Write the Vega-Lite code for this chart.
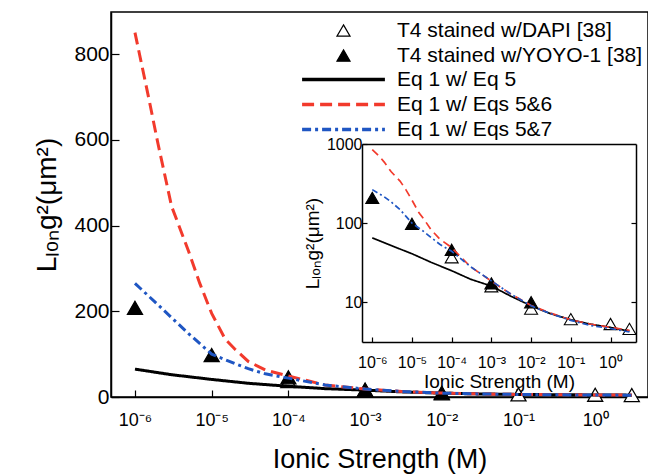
{
  "$schema": "https://vega.github.io/schema/vega-lite/v6.json",
  "width": 537,
  "height": 385,
  "autosize": "none",
  "padding": {"left": 111, "top": 12, "right": 0, "bottom": 77},
  "config": {
    "view": {"stroke": "black", "strokeWidth": 1.5},
    "font": "Liberation Sans",
    "axis": {"grid": false, "domainColor": "black", "domainWidth": 1.5, "tickColor": "black", "tickWidth": 1.2, "labelColor": "black", "titleColor": "black", "titleFontWeight": "normal", "labelFont": "Liberation Sans", "titleFont": "Liberation Sans"},
    "legend": {"labelFont": "Liberation Sans"}
  },
  "datasets": {
    "curves": [
      {"I": 1e-6, "L": 65, "series": "Eq 1 w/ Eq 5"},
      {"I": 3e-6, "L": 52, "series": "Eq 1 w/ Eq 5"},
      {"I": 1e-5, "L": 41, "series": "Eq 1 w/ Eq 5"},
      {"I": 3e-5, "L": 32, "series": "Eq 1 w/ Eq 5"},
      {"I": 1e-4, "L": 25, "series": "Eq 1 w/ Eq 5"},
      {"I": 3e-4, "L": 19.5, "series": "Eq 1 w/ Eq 5"},
      {"I": 1e-3, "L": 16, "series": "Eq 1 w/ Eq 5"},
      {"I": 3e-3, "L": 12, "series": "Eq 1 w/ Eq 5"},
      {"I": 1e-2, "L": 9.0, "series": "Eq 1 w/ Eq 5"},
      {"I": 3e-2, "L": 7.2, "series": "Eq 1 w/ Eq 5"},
      {"I": 0.1, "L": 6.0, "series": "Eq 1 w/ Eq 5"},
      {"I": 0.3, "L": 5.3, "series": "Eq 1 w/ Eq 5"},
      {"I": 1, "L": 4.8, "series": "Eq 1 w/ Eq 5"},
      {"I": 3, "L": 4.3, "series": "Eq 1 w/ Eq 5"},
      {"I": 1e-6, "L": 850, "series": "Eq 1 w/ Eqs 5&6"},
      {"I": 1.5e-6, "L": 700, "series": "Eq 1 w/ Eqs 5&6"},
      {"I": 2e-6, "L": 590, "series": "Eq 1 w/ Eqs 5&6"},
      {"I": 3e-6, "L": 445, "series": "Eq 1 w/ Eqs 5&6"},
      {"I": 5e-6, "L": 340, "series": "Eq 1 w/ Eqs 5&6"},
      {"I": 7e-6, "L": 265, "series": "Eq 1 w/ Eqs 5&6"},
      {"I": 1e-5, "L": 195, "series": "Eq 1 w/ Eqs 5&6"},
      {"I": 1.5e-5, "L": 135, "series": "Eq 1 w/ Eqs 5&6"},
      {"I": 2e-5, "L": 112, "series": "Eq 1 w/ Eqs 5&6"},
      {"I": 3e-5, "L": 83, "series": "Eq 1 w/ Eqs 5&6"},
      {"I": 5e-5, "L": 63, "series": "Eq 1 w/ Eqs 5&6"},
      {"I": 1e-4, "L": 49, "series": "Eq 1 w/ Eqs 5&6"},
      {"I": 3e-4, "L": 28, "series": "Eq 1 w/ Eqs 5&6"},
      {"I": 1e-3, "L": 18.5, "series": "Eq 1 w/ Eqs 5&6"},
      {"I": 3e-3, "L": 12.8, "series": "Eq 1 w/ Eqs 5&6"},
      {"I": 1e-2, "L": 9.1, "series": "Eq 1 w/ Eqs 5&6"},
      {"I": 3e-2, "L": 7.3, "series": "Eq 1 w/ Eqs 5&6"},
      {"I": 0.1, "L": 6.0, "series": "Eq 1 w/ Eqs 5&6"},
      {"I": 0.3, "L": 5.3, "series": "Eq 1 w/ Eqs 5&6"},
      {"I": 1, "L": 4.8, "series": "Eq 1 w/ Eqs 5&6"},
      {"I": 3, "L": 4.4, "series": "Eq 1 w/ Eqs 5&6"},
      {"I": 1e-6, "L": 265, "series": "Eq 1 w/ Eqs 5&7"},
      {"I": 2e-6, "L": 215, "series": "Eq 1 w/ Eqs 5&7"},
      {"I": 3e-6, "L": 185, "series": "Eq 1 w/ Eqs 5&7"},
      {"I": 5e-6, "L": 148, "series": "Eq 1 w/ Eqs 5&7"},
      {"I": 1e-5, "L": 100, "series": "Eq 1 w/ Eqs 5&7"},
      {"I": 2e-5, "L": 78, "series": "Eq 1 w/ Eqs 5&7"},
      {"I": 3e-5, "L": 66, "series": "Eq 1 w/ Eqs 5&7"},
      {"I": 5e-5, "L": 54, "series": "Eq 1 w/ Eqs 5&7"},
      {"I": 1e-4, "L": 44, "series": "Eq 1 w/ Eqs 5&7"},
      {"I": 3e-4, "L": 28, "series": "Eq 1 w/ Eqs 5&7"},
      {"I": 1e-3, "L": 18.6, "series": "Eq 1 w/ Eqs 5&7"},
      {"I": 3e-3, "L": 12.8, "series": "Eq 1 w/ Eqs 5&7"},
      {"I": 1e-2, "L": 9.0, "series": "Eq 1 w/ Eqs 5&7"},
      {"I": 3e-2, "L": 7.2, "series": "Eq 1 w/ Eqs 5&7"},
      {"I": 0.1, "L": 5.9, "series": "Eq 1 w/ Eqs 5&7"},
      {"I": 0.3, "L": 5.1, "series": "Eq 1 w/ Eqs 5&7"},
      {"I": 1, "L": 4.65, "series": "Eq 1 w/ Eqs 5&7"},
      {"I": 3, "L": 4.2, "series": "Eq 1 w/ Eqs 5&7"}
    ],
    "pts": [
      {"I": 1e-4, "L": 37, "series": "T4 stained w/DAPI [38]"},
      {"I": 1e-3, "L": 15.9, "series": "T4 stained w/DAPI [38]"},
      {"I": 1e-2, "L": 8.3, "series": "T4 stained w/DAPI [38]"},
      {"I": 0.1, "L": 6.1, "series": "T4 stained w/DAPI [38]"},
      {"I": 1, "L": 5.3, "series": "T4 stained w/DAPI [38]"},
      {"I": 3, "L": 4.6, "series": "T4 stained w/DAPI [38]"},
      {"I": 1e-6, "L": 208, "series": "T4 stained w/YOYO-1 [38]"},
      {"I": 1e-5, "L": 98, "series": "T4 stained w/YOYO-1 [38]"},
      {"I": 1e-4, "L": 46, "series": "T4 stained w/YOYO-1 [38]"},
      {"I": 1e-3, "L": 17.3, "series": "T4 stained w/YOYO-1 [38]"},
      {"I": 1e-2, "L": 10, "series": "T4 stained w/YOYO-1 [38]"}
    ]
  },
  "layer": [
    {
      "encoding": {
        "x": {"field": "I", "type": "quantitative", "scale": {"type": "log", "domain": [4.87e-7, 4.88]},
          "axis": {"values": [1e-6, 1e-5, 1e-4, 1e-3, 1e-2, 1e-1, 1], "labelExpr": "'10' + (['⁰','⁻¹','⁻²','⁻³','⁻⁴','⁻⁵','⁻⁶'])[round(-log(datum.value)/LN10)]", "labelFontSize": 18, "labelPadding": 21, "tickSize": -7, "title": "Ionic Strength (M)", "titleFontSize": 27, "titlePadding": 17}},
        "y": {"field": "L", "type": "quantitative", "scale": {"domain": [0, 898]},
          "axis": {"values": [0, 200, 400, 600, 800], "labelFontSize": 21, "labelPadding": 10, "tickSize": -8, "title": "Lₗₒₙg²(μm²)", "titleFontSize": 28, "titlePadding": 12}}
      },
      "layer": [
        {
          "data": {"name": "pts"},
          "mark": {"type": "point", "size": 100, "strokeWidth": 1.3, "opacity": 1, "filled": false},
          "encoding": {
            "stroke": {"field": "series", "type": "nominal",
              "scale": {"domain": ["T4 stained w/DAPI [38]", "T4 stained w/YOYO-1 [38]"], "range": ["black", "black"]},
              "legend": {"title": null, "orient": "none", "legendX": 222, "legendY": 8, "padding": 0, "symbolSize": 76, "symbolStrokeWidth": 1.2, "symbolOpacity": 1, "labelFontSize": 21, "labelColor": "black", "labelOffset": 43, "rowPadding": 3, "labelLimit": 400}},
            "shape": {"field": "series", "type": "nominal",
              "scale": {"domain": ["T4 stained w/DAPI [38]", "T4 stained w/YOYO-1 [38]"], "range": ["M0,-1.3L1.5,1.3L-1.5,1.3Z", "M0,-1.3L1.5,1.3L-1.5,1.3Z"]},
              "legend": {"title": null, "orient": "none", "legendX": 222, "legendY": 8, "padding": 0, "symbolSize": 76, "symbolStrokeWidth": 1.2, "symbolOpacity": 1, "labelFontSize": 21, "labelColor": "black", "labelOffset": 43, "rowPadding": 3, "labelLimit": 400}},
            "fill": {"field": "series", "type": "nominal",
              "scale": {"domain": ["T4 stained w/DAPI [38]", "T4 stained w/YOYO-1 [38]"], "range": ["white", "black"]},
              "legend": {"title": null, "orient": "none", "legendX": 222, "legendY": 8, "padding": 0, "symbolSize": 76, "symbolStrokeWidth": 1.2, "symbolOpacity": 1, "labelFontSize": 21, "labelColor": "black", "labelOffset": 43, "rowPadding": 3, "labelLimit": 400}}
          }
        },
        {
          "data": {"name": "curves"},
          "mark": {"type": "line", "strokeWidth": 3},
          "encoding": {
            "color": {"field": "series", "type": "nominal",
              "scale": {"domain": ["Eq 1 w/ Eq 5", "Eq 1 w/ Eqs 5&6", "Eq 1 w/ Eqs 5&7"], "range": ["black", "#f23a2c", "#1f56c3"]},
              "legend": {"title": null, "orient": "none", "legendX": 222, "legendY": 57, "padding": 0, "symbolType": "M-9.5,0H9.5", "symbolSize": 76, "symbolStrokeWidth": 3.5, "symbolOpacity": 1, "labelFontSize": 21, "labelColor": "black", "labelOffset": 43, "rowPadding": 3, "labelLimit": 400}},
            "strokeDash": {"field": "series", "type": "nominal",
              "scale": {"domain": ["Eq 1 w/ Eq 5", "Eq 1 w/ Eqs 5&6", "Eq 1 w/ Eqs 5&7"], "range": [[1, 0], [12, 6], [9, 4, 3, 4]]},
              "legend": {"title": null, "orient": "none", "legendX": 222, "legendY": 57, "padding": 0, "symbolType": "M-9.5,0H9.5", "symbolSize": 76, "symbolStrokeWidth": 3.5, "symbolOpacity": 1, "labelFontSize": 21, "labelColor": "black", "labelOffset": 43, "rowPadding": 3, "labelLimit": 400}}
          }
        }
      ]
    },
    {
      "data": {"name": "pts"},
      "mark": {"type": "point", "size": 75, "strokeWidth": 1.1, "opacity": 1, "filled": false},
      "encoding": {
        "x": {"field": "I", "type": "quantitative", "scale": {"type": "log", "domain": [5.51e-7, 4.385], "range": [251, 525]},
          "axis": {"orient": "bottom", "offset": -55, "values": [1e-6, 1e-5, 1e-4, 1e-3, 1e-2, 1e-1, 1], "labelExpr": "'10' + (['⁰','⁻¹','⁻²','⁻³','⁻⁴','⁻⁵','⁻⁶'])[round(-log(datum.value)/LN10)]", "labelFontSize": 16, "labelPadding": 17, "tickSize": -5, "title": "Ionic Strength (M)", "titleFontSize": 19, "titlePadding": 2}},
        "y": {"field": "L", "type": "quantitative", "scale": {"type": "log", "domain": [3.14, 1000], "range": [330, 132]},
          "axis": {"orient": "left", "offset": -251, "values": [10, 100, 1000], "format": "d", "labelFontSize": 16, "labelPadding": 5, "tickSize": -5, "title": "Lₗₒₙg²(μm²)", "titleFontSize": 19, "titlePadding": 4}},
        "stroke": {"value": "black"},
        "shape": {"field": "series", "type": "nominal",
          "scale": {"domain": ["T4 stained w/DAPI [38]", "T4 stained w/YOYO-1 [38]"], "range": ["M0,-1.3L1.5,1.3L-1.5,1.3Z", "M0,-1.3L1.5,1.3L-1.5,1.3Z"]}, "legend": null},
        "fill": {"field": "series", "type": "nominal", "scale": {"domain": ["T4 stained w/DAPI [38]", "T4 stained w/YOYO-1 [38]"], "range": ["white", "black"]}, "legend": null}
      }
    },
    {
      "data": {"name": "curves"},
      "mark": {"type": "line", "strokeWidth": 1.7},
      "encoding": {
        "x": {"field": "I", "type": "quantitative", "scale": {"type": "log", "domain": [5.51e-7, 4.385], "range": [251, 525]},
          "axis": {"orient": "top", "offset": -132, "ticks": false, "labels": false, "title": null}},
        "y": {"field": "L", "type": "quantitative", "scale": {"type": "log", "domain": [3.14, 1000], "range": [330, 132]},
          "axis": {"orient": "right", "offset": -12, "values": [10, 100], "labels": false, "tickSize": -5, "title": null}},
        "color": {"field": "series", "type": "nominal", "scale": {"domain": ["Eq 1 w/ Eq 5", "Eq 1 w/ Eqs 5&6", "Eq 1 w/ Eqs 5&7"], "range": ["black", "#f23a2c", "#1f56c3"]}, "legend": null},
        "strokeDash": {"field": "series", "type": "nominal", "scale": {"domain": ["Eq 1 w/ Eq 5", "Eq 1 w/ Eqs 5&6", "Eq 1 w/ Eqs 5&7"], "range": [[1, 0], [8, 5], [6, 3, 2, 3]]}, "legend": null}
      }
    }
  ],
  "resolve": {"scale": {"x": "independent", "y": "independent", "strokeDash": "independent", "shape": "independent", "fill": "independent", "color": "independent", "stroke": "independent"}}
}
